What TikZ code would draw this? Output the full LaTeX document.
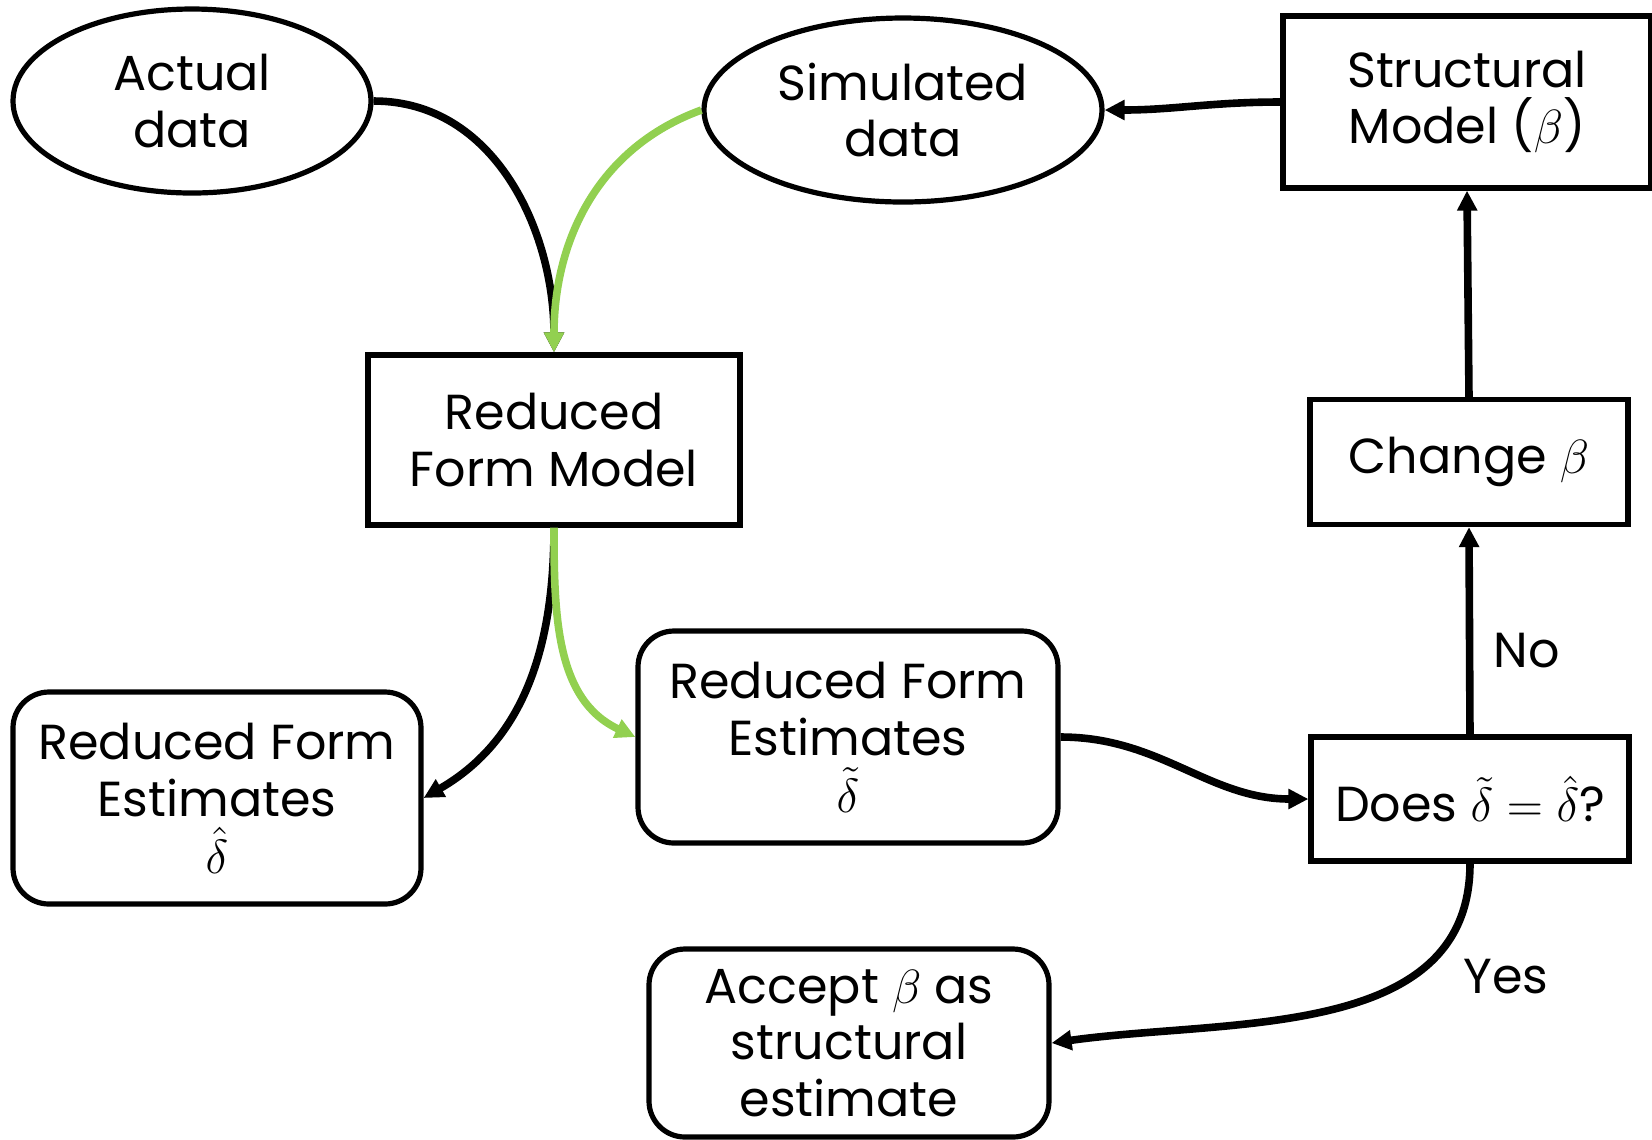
\documentclass[tikz,border=0pt]{standalone}
\usepackage{fontspec}
\setmainfont{Poppins}
\usetikzlibrary{arrows.meta}
\usetikzlibrary{shapes.geometric}

\begin{document}
\begin{tikzpicture}[x=0.25pt, y=-0.25pt,
	every node/.style={font=\fontsize{12.3}{14.2}\selectfont, align=center, inner sep=0pt},
	sqbox/.style={draw, line width=1.3pt},
	rndbox/.style={draw, line width=1.3pt, rounded corners=9pt},
	blob/.style={draw, ellipse, line width=1.3pt},
	flow/.style={line width=1.9pt, -{Triangle[length=5pt, width=4.8pt]}},
	simflow/.style={flow, draw={rgb,255:red,146;green,208;blue,80}}]
	\useasboundingbox (0,0) rectangle (1652,1139);

	% data
	\node[blob, minimum width=89.5pt, minimum height=46pt] (actual) at (192,101) {Actual\\data};
	\node[blob, minimum width=99.5pt, minimum height=46pt] (sim) at (903,110) {Simulated\\data};

	% models
	\node[sqbox, minimum width=92pt, minimum height=43pt] (struct) at (1467,102) {Structural\\Model ($\beta$)};
	\node[sqbox, minimum width=93pt, minimum height=42.5pt] (rfm) at (554,440) {Reduced\\Form Model};
	\node[sqbox, minimum width=79.5pt, minimum height=31.25pt] (change) at (1469,462) {Change $\beta$};

	% estimates
	\node[rndbox, minimum width=102pt, minimum height=53pt] (esthat) at (217,798) {Reduced Form\\Estimates\\$\hat{\delta}$};
	\node[rndbox, minimum width=105pt, minimum height=53pt] (esttil) at (848,737) {Reduced Form\\Estimates\\$\tilde{\delta}$};
	\node[sqbox, minimum width=79.5pt, minimum height=31pt] (does) at (1470,799) {Does $\tilde{\delta}=\hat{\delta}$?};
	\node[rndbox, minimum width=100pt, minimum height=47pt] (accept) at (849,1043) {Accept $\beta$ as\\structural\\estimate};

	% answers
	\node[anchor=center] (no) at (1527,651) {No};
	\node[anchor=center] (yes) at (1506,977) {Yes};

	% arrows
	\draw[flow] (actual.east) to[out=0, in=90] (rfm.north);
	\draw[simflow] (sim.west) to[out=200, in=90] (rfm.north);
	\draw[flow] (rfm.south) to[out=-90, in=30] (esthat.east);
	\draw[simflow] (rfm.south) to[out=-90, in=155] (esttil.west);
	\draw[flow] (esttil.east) to[out=0, in=180] (does.west);
	\draw[flow] (does.north) -- (change.south);
	\draw[flow] (change.north) -- (struct.south);
	\draw[flow] (struct.west) to[out=180, in=0] (sim.east);
	\draw[flow] (does.south) to[out=-90, in=8] (accept.east);

\end{tikzpicture}
\end{document}
